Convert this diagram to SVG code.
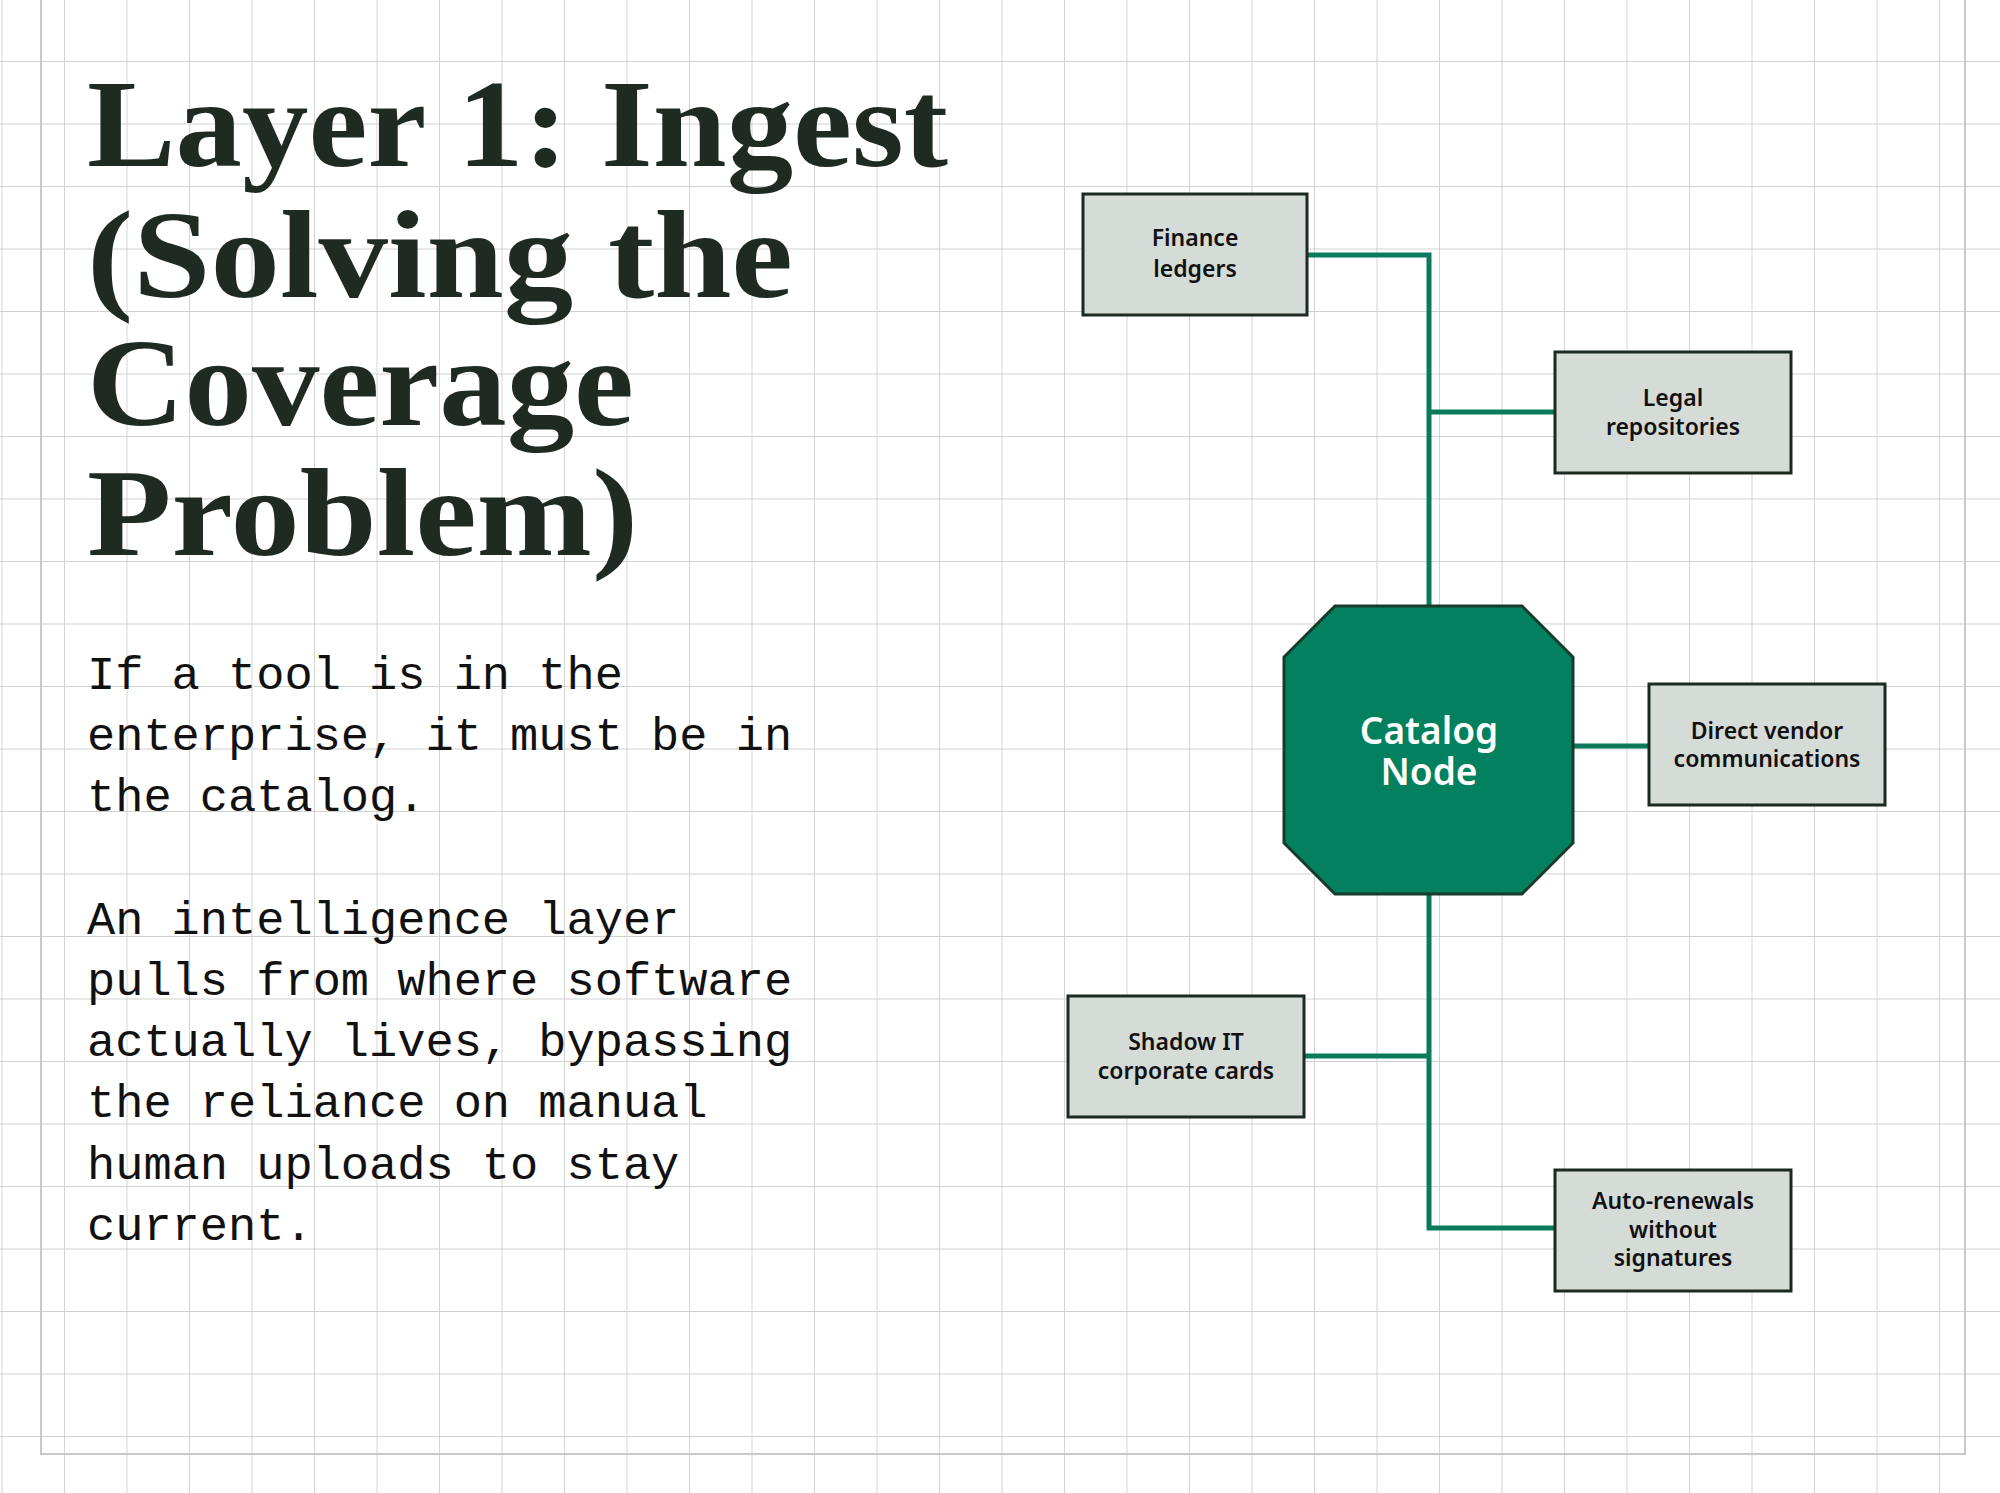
<svg xmlns="http://www.w3.org/2000/svg" width="2000" height="1493" viewBox="0 0 2000 1493">
<defs>
<pattern id="grid" x="1.5" y="-1.5" width="62.5" height="62.5" patternUnits="userSpaceOnUse">
<path d="M0 0H62.5M0 0V62.5" fill="none" stroke="#d0d0d0" stroke-width="1.8"/>
</pattern>
<style>
.title{font-family:"Liberation Serif","DejaVu Serif",serif;font-weight:bold;font-size:125px;fill:#1e2a22}
.body{font-family:"Liberation Mono","DejaVu Sans Mono",monospace;font-size:47px;fill:#111}
.box{fill:#d5dbd6;stroke:#1d2a22;stroke-width:3}
.lbl{font-family:"Noto Sans","Roboto",sans-serif;font-weight:600;font-size:23px;fill:#111;text-anchor:middle}
.conn{fill:none;stroke:#0b7a5c;stroke-width:5}
</style>
</defs>
<rect width="2000" height="1493" fill="#fff"/>
<rect width="2000" height="1493" fill="url(#grid)"/>
<path d="M41 0V1454H1965V0" fill="none" stroke="#c8c8c8" stroke-width="2"/>
<g id="title">
<text class="title" x="87" y="166" textLength="861" lengthAdjust="spacingAndGlyphs">Layer 1: Ingest</text>
<text class="title" x="87" y="297" textLength="706" lengthAdjust="spacingAndGlyphs">(Solving the</text>
<text class="title" x="87" y="425" textLength="547" lengthAdjust="spacingAndGlyphs">Coverage</text>
<text class="title" x="87" y="555" textLength="551" lengthAdjust="spacingAndGlyphs">Problem)</text>
</g>
<g id="body">
<text class="body" x="87" y="689">If a tool is in the</text>
<text class="body" x="87" y="750">enterprise, it must be in</text>
<text class="body" x="87" y="811">the catalog.</text>
<text class="body" x="87" y="934">An intelligence layer</text>
<text class="body" x="87" y="995">pulls from where software</text>
<text class="body" x="87" y="1056">actually lives, bypassing</text>
<text class="body" x="87" y="1117">the reliance on manual</text>
<text class="body" x="87" y="1179">human uploads to stay</text>
<text class="body" x="87" y="1240">current.</text>
</g>
<g id="connectors">
<path class="conn" d="M1307 255H1429V606"/>
<path class="conn" d="M1429 412H1555"/>
<path class="conn" d="M1573 746H1649"/>
<path class="conn" d="M1429 894V1228H1555"/>
<path class="conn" d="M1304 1056H1429"/>
</g>
<g id="catalog">
<polygon points="1335,606 1522,606 1573,657 1573,843 1522,894 1335,894 1284,843 1284,657" fill="#03805e" stroke="#173a2b" stroke-width="3"/>
<text x="1429" y="744" font-family="Noto Sans,Roboto,sans-serif" font-weight="600" font-size="37" fill="#fff" text-anchor="middle">Catalog</text>
<text x="1429" y="785" font-family="Noto Sans,Roboto,sans-serif" font-weight="600" font-size="37" fill="#fff" text-anchor="middle">Node</text>
</g>
<g id="finance">
<rect class="box" x="1083" y="194" width="224" height="121"/>
<text class="lbl" x="1195" y="246">Finance</text><text class="lbl" x="1195" y="277">ledgers</text>
</g>
<g id="legal">
<rect class="box" x="1555" y="352" width="236" height="121"/>
<text class="lbl" x="1673" y="406">Legal</text><text class="lbl" x="1673" y="435">repositories</text>
</g>
<g id="direct">
<rect class="box" x="1649" y="684" width="236" height="121"/>
<text class="lbl" x="1767" y="739">Direct vendor</text><text class="lbl" x="1767" y="767">communications</text>
</g>
<g id="shadow">
<rect class="box" x="1068" y="996" width="236" height="121"/>
<text class="lbl" x="1186" y="1050">Shadow IT</text><text class="lbl" x="1186" y="1079">corporate cards</text>
</g>
<g id="auto">
<rect class="box" x="1555" y="1170" width="236" height="121"/>
<text class="lbl" x="1673" y="1209">Auto-renewals</text><text class="lbl" x="1673" y="1238">without</text><text class="lbl" x="1673" y="1266">signatures</text>
</g>
</svg>
